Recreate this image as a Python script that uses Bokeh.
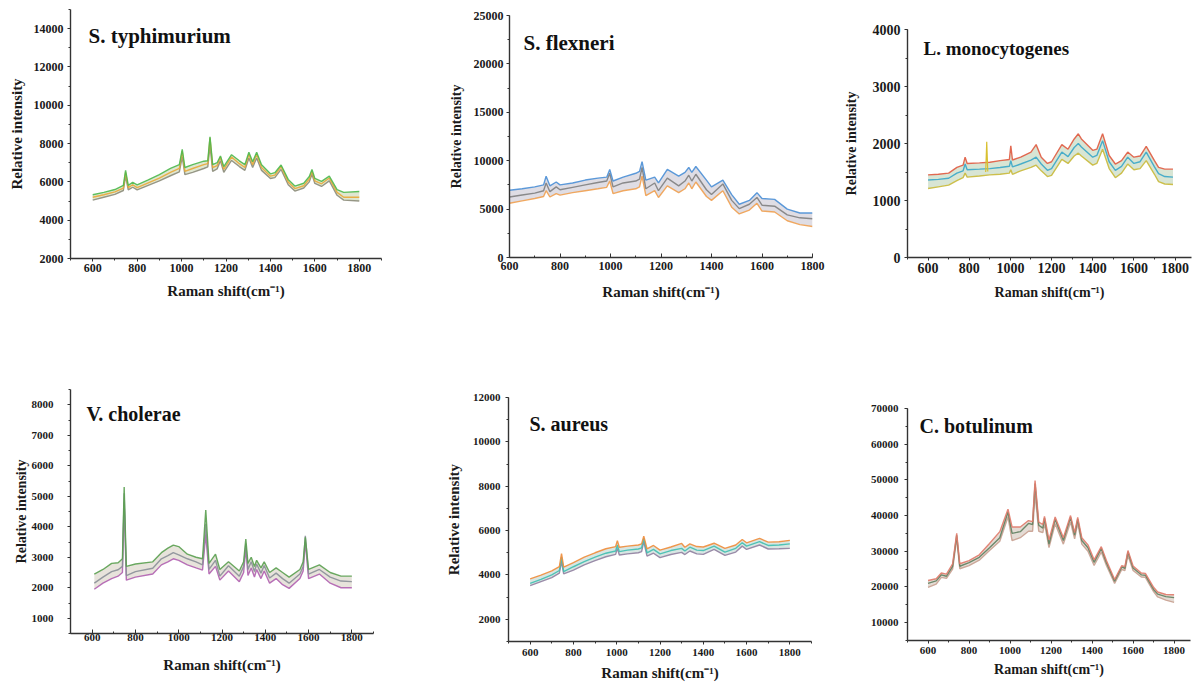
from bokeh.plotting import figure
from bokeh.layouts import row, column
from bokeh.models import Label, SingleIntervalTicker, Range1d
from bokeh.embed import file_html
from bokeh.resources import INLINE

FONT = "Liberation Serif"
XLABEL = "Raman shift(cm\u207b\u00b9)"
YLABEL = "Relative intensity"

# ---------------- data ----------------
TITLES = ["S. typhimurium", "S. flexneri", "L. monocytogenes",
          "V. cholerae", "S. aureus", "C. botulinum"]

P1_X = [600, 650, 700, 738, 748, 760, 780, 800, 850, 900, 950, 990, 1003, 1015, 1050, 1100, 1118, 1128, 1140, 1160,
        1175, 1190, 1225, 1260, 1285, 1303, 1320, 1338, 1360, 1400, 1420, 1448, 1480, 1510, 1550, 1575, 1587, 1600,
        1630, 1665, 1700, 1730, 1800]
P1_HI = [5330, 5450, 5600, 5820, 6600, 5820, 5980, 5840, 6100, 6380, 6700, 6900, 7700, 6750, 6900, 7080, 7100, 8350,
         6900, 7000, 7350, 6800, 7420, 7100, 6900, 7550, 7050, 7550, 6900, 6420, 6480, 6880, 6130, 5780, 5930, 6280,
         6650, 6180, 6030, 6300, 5600, 5450, 5500]
P1_MID = [5200, 5330, 5480, 5680, 6500, 5700, 5850, 5700, 5950, 6200, 6500, 6700, 7600, 6550, 6700, 6900, 6950, 8300,
          6750, 6850, 7300, 6650, 7300, 6950, 6750, 7450, 6900, 7450, 6750, 6300, 6350, 6800, 6000, 5650, 5800, 6150,
          6550, 6050, 5900, 6200, 5450, 5200, 5200]
P1_LO = [5050, 5200, 5350, 5550, 6300, 5580, 5720, 5580, 5820, 6050, 6320, 6520, 7300, 6380, 6500, 6700, 6780, 7900,
         6550, 6680, 7100, 6500, 7120, 6800, 6600, 7250, 6750, 7250, 6600, 6180, 6220, 6650, 5850, 5520, 5680, 6000,
         6400, 5920, 5760, 6050, 5300, 5050, 5000]

P2_X = [600, 650, 700, 735, 745, 760, 785, 800, 850, 900, 950, 985, 997, 1010, 1050, 1100, 1115, 1125, 1140, 1175,
        1190, 1225, 1270, 1295, 1310, 1322, 1338, 1380, 1400, 1445, 1480, 1510, 1550, 1580, 1600, 1650, 1700, 1750, 1800]
P2_HI = [6950, 7100, 7300, 7500, 8400, 7400, 7800, 7500, 7700, 8000, 8200, 8300, 9100, 7900, 8300, 8700, 8900, 9900,
         8000, 8300, 7700, 9100, 8400, 8800, 9300, 8800, 9400, 8000, 7300, 8000, 6500, 5500, 5900, 6700, 6100, 6000,
         5000, 4600, 4600]
P2_MID = [6250, 6450, 6650, 6900, 7700, 6800, 7300, 7000, 7250, 7500, 7750, 7900, 8700, 7300, 7700, 7900, 8100, 9300,
          7100, 7700, 6900, 8200, 7400, 7900, 8500, 7900, 8600, 7000, 6500, 7600, 5900, 5050, 5500, 6200, 5400, 5300,
          4400, 4100, 4000]
P2_LO = [5600, 5850, 6100, 6300, 6900, 6250, 6600, 6450, 6700, 6900, 7100, 7250, 7900, 6600, 6900, 7100, 7300, 8400,
         6400, 6900, 6200, 7400, 6700, 7100, 7700, 7100, 7800, 6300, 5900, 6900, 5200, 4500, 4900, 5600, 4800, 4700,
         3800, 3400, 3200]

P3_X = [600, 650, 700, 740, 770, 780, 790, 850, 900, 950, 995, 1002, 1010, 1050, 1100, 1125, 1150, 1180, 1200, 1250,
        1280, 1310, 1330, 1345, 1400, 1420, 1448, 1480, 1510, 1540, 1570, 1600, 1630, 1660, 1700, 1720, 1750, 1790]
P3_HI = [1450, 1460, 1480, 1580, 1620, 1760, 1650, 1660, 1670, 1700, 1720, 1960, 1710, 1760, 1850, 1980, 1760, 1650,
         1680, 1980, 1900, 2080, 2170, 2080, 1880, 1900, 2170, 1790, 1640, 1700, 1850, 1760, 1780, 1950, 1700, 1580,
         1550, 1550]
P3_MID = [1360, 1370, 1390, 1480, 1520, 1640, 1540, 1550, 1560, 1580, 1600, 1700, 1590, 1640, 1710, 1760, 1640, 1530,
          1560, 1850, 1770, 1930, 2000, 1940, 1760, 1790, 2050, 1680, 1530, 1600, 1760, 1650, 1680, 1850, 1590, 1470,
          1420, 1410]
P3_LO = [1210, 1240, 1270, 1350, 1400, 1480, 1410, 1430, 1450, 1460, 1480, 1540, 1460, 1520, 1580, 1620, 1520, 1420,
         1440, 1720, 1650, 1780, 1830, 1780, 1620, 1650, 1900, 1560, 1400, 1480, 1640, 1540, 1560, 1700, 1460, 1330,
         1290, 1280]
P3_SPIKE_X = [880, 885, 890]
P3_SPIKE_Y = [1500, 2030, 1510]

P4_X = [610, 650, 690, 720, 740, 748, 758, 800, 880, 920, 950, 975, 1000, 1040, 1080, 1110, 1125, 1140, 1170, 1190,
        1230, 1280, 1300, 1310, 1320, 1335, 1350, 1360, 1380, 1395, 1420, 1450, 1480, 1510, 1560, 1575, 1585, 1600,
        1650, 1700, 1750, 1800]
P4_HI = [2450, 2600, 2800, 2820, 2950, 5300, 2700, 2780, 2850, 3150, 3300, 3400, 3350, 3100, 3000, 2950, 4550, 2800,
         3100, 2600, 2850, 2550, 2850, 3600, 2800, 3000, 2700, 2900, 2650, 2850, 2500, 2650, 2500, 2350, 2600, 2850,
         3650, 2600, 2750, 2500, 2380, 2380]
P4_MID = [2150, 2350, 2530, 2590, 2700, 5100, 2400, 2530, 2640, 2950, 3050, 3150, 3080, 2950, 2850, 2750, 4100, 2600,
          2900, 2380, 2720, 2380, 2700, 3450, 2600, 2850, 2530, 2780, 2480, 2730, 2320, 2480, 2300, 2150, 2450, 2700,
          3700, 2450, 2600, 2350, 2220, 2200]
P4_LO = [1950, 2150, 2300, 2380, 2500, 4800, 2250, 2350, 2450, 2750, 2850, 2950, 2900, 2750, 2650, 2580, 3750, 2450,
         2700, 2250, 2550, 2200, 2500, 3300, 2400, 2650, 2350, 2600, 2300, 2550, 2150, 2300, 2100, 1980, 2300, 2550,
         3500, 2300, 2450, 2150, 2000, 2000]

P5_X = [600, 650, 700, 735, 745, 755, 800, 850, 900, 950, 995, 1003, 1012, 1050, 1100, 1115, 1125, 1140, 1170, 1200,
        1250, 1300, 1315, 1338, 1370, 1400, 1450, 1500, 1550, 1580, 1600, 1660, 1700, 1750, 1800]
P5_HI = [3820, 3990, 4180, 4380, 4960, 4350, 4560, 4800, 5000, 5180, 5280, 5550, 5250, 5300, 5350, 5400, 5750, 5180,
         5330, 5120, 5260, 5420, 5250, 5400, 5280, 5260, 5430, 5200, 5350, 5600, 5450, 5650, 5480, 5500, 5560]
P5_MID = [3620, 3800, 4000, 4200, 4800, 4150, 4370, 4600, 4800, 4980, 5080, 5350, 5050, 5120, 5170, 5220, 5650, 5000,
          5150, 4950, 5100, 5200, 5080, 5250, 5120, 5100, 5300, 5030, 5200, 5450, 5300, 5500, 5330, 5350, 5400]
P5_LO = [3520, 3700, 3880, 4080, 4600, 4050, 4220, 4450, 4650, 4820, 4930, 5200, 4900, 4950, 5000, 5050, 5500, 4850,
         4980, 4780, 4920, 5020, 4920, 5080, 4950, 4930, 5150, 4880, 5030, 5300, 5150, 5350, 5170, 5180, 5200]

P6_X = [600, 640, 665, 690, 720, 740, 755, 800, 850, 900, 950, 990, 1010, 1050, 1090, 1110, 1122, 1140, 1160, 1168,
        1190, 1220, 1260, 1295, 1315, 1330, 1350, 1380, 1410, 1445, 1470, 1510, 1545, 1560, 1575, 1600, 1640, 1660,
        1700, 1720, 1760, 1800]
P6_HI = [21800, 22300, 23900, 23600, 26500, 35000, 26500, 27400, 29000, 32200, 35500, 41800, 36800, 36800, 38600,
         38300, 49800, 38200, 37500, 39800, 33200, 39600, 33800, 40000, 35200, 39500, 33800, 31800, 27600, 31300,
         27400, 22100, 26000, 25700, 30200, 25900, 23900, 23800, 19900, 18600, 17900, 17800]
P6_MID = [21000, 21700, 23400, 23000, 25800, 34500, 25800, 26800, 28300, 31000, 33800, 41000, 35000, 35500, 37800,
          37500, 49000, 37300, 36500, 39300, 32000, 39000, 33000, 39500, 34500, 39000, 33000, 31000, 26900, 30800,
          26800, 21600, 25600, 25200, 29800, 25300, 23400, 23300, 19300, 18000, 17300, 17000]
P6_LO = [19900, 20800, 22700, 22400, 25000, 33500, 25100, 26000, 27500, 30200, 32800, 39600, 33000, 33800, 35600,
         35600, 46000, 35600, 35200, 37800, 31000, 37700, 32000, 38200, 33500, 37800, 32000, 30000, 26000, 29800,
         26000, 21000, 24900, 24600, 28800, 24600, 22800, 22700, 18700, 17200, 16300, 15700]

X_RANGES = [(500, 1900), (600, 1800), (500, 1880), (500, 1900), (500, 1900), (500, 1880)]
Y_RANGES = [(2000, 15000), (0, 25000), (0, 4000), (500, 8500), (1000, 12000), (5000, 70000)]
Y_STEPS = [2000, 5000, 1000, 1000, 2000, 10000]

SERIES = [
    (P1_X, [P1_LO, P1_MID, P1_HI]),
    (P2_X, [P2_LO, P2_MID, P2_HI]),
    (P3_X, [P3_LO, P3_MID, P3_HI]),
    (P4_X, [P4_LO, P4_MID, P4_HI]),
    (P5_X, [P5_LO, P5_MID, P5_HI]),
    (P6_X, [P6_LO, P6_MID, P6_HI]),
]

# ---------------- styles / layout ----------------
COLORS = [
    ["#8c8c7a", "#e8a838", "#4cb84c"],
    ["#f0a050", "#808080", "#4a8fd6"],
    ["#c9b93a", "#38a6c8", "#e05a40"],
    ["#b060b0", "#8a8f98", "#5aa050"],
    ["#9080a0", "#40bfb0", "#f08c3a"],
    ["#c8a090", "#5f7f5f", "#e07a6a"],
]
BAND = ["#b9c99a", "#b9b4c4", "#a9c6a0", "#c9c0b0", "#a8c8c0", "#c4b0a0"]

# frame_w, frame_h, border l, r, t, b
BOX = [
    (311, 249, 70, 19, 9, 82),
    (303, 242, 109, 28, 15, 83),
    (284, 228, 64, 4, 29, 83),
    (303, 244, 70, 27, 49, 51),
    (303, 244, 108, 29, 57, 43),
    (283, 232, 67, 2, 68, 44),
]
# title: x offset, y from frame bottom, size
TITLE_POS = [(18, 223, "21px"), (14, 215, "21px"), (16, 209, "19px"),
             (16, 220, "20px"), (21, 218, "20px"), (12, 215, "20px")]
# tick font, ytick standoff, xtick out, xtick in, xtick standoff
TICKS = [("12px", 4, 3, 0, 2), ("12px", 3, 0, 4, 4), ("14px", 4, 3, 0, 2),
         ("11px", 14, 0, 4, 0), ("11px", 5, 3, 0, 4), ("11px", 6, 3, 0, 3)]
# xlabel size, xlabel standoff, ylabel size, ylabel standoff
LABS = [("15px", 8, "15px", 6), ("15px", 11, "14px", 7), ("14px", 9, "14px", 11),
        ("15px", 13, "14px", 0), ("15px", 6, "15px", 8), ("14px", 5, None, 0)]

INK = "#1a1a1a"


def make_panel(i):
    fw, fh, bl, br, bt, bb = BOX[i]
    p = figure(frame_width=fw, frame_height=fh, min_border=0,
               min_border_left=bl, min_border_right=br, min_border_top=bt, min_border_bottom=bb,
               x_range=Range1d(*X_RANGES[i]), y_range=Range1d(*Y_RANGES[i]),
               output_backend="svg", toolbar_location=None, tools="")
    if "frame_align" in p.properties():
        p.frame_align = False
    p.grid.visible = False
    p.outline_line_color = None
    p.background_fill_color = "white"
    p.border_fill_color = "white"

    x, ys = SERIES[i]
    # spread of the bundle of spectra (between the lowest and highest traces)
    p.varea(x=x, y1=ys[0], y2=ys[2], fill_color=BAND[i], fill_alpha=0.45)
    for y, c in zip(ys, COLORS[i]):
        p.line(x, y, line_color=c, line_width=1.4, line_alpha=0.9)
    if i == 2:
        p.line(P3_SPIKE_X, P3_SPIKE_Y, line_color="#d8c030", line_width=1.2)

    tfont, ystand, xout, xin, xstand = TICKS[i]
    xls, xlst, yls, ylst = LABS[i]

    p.xaxis.ticker = SingleIntervalTicker(interval=200, num_minor_ticks=2)
    p.yaxis.ticker = SingleIntervalTicker(interval=Y_STEPS[i], num_minor_ticks=2)
    for ax in (p.xaxis[0], p.yaxis[0]):
        ax.axis_line_color = "#333333"
        ax.axis_line_width = 1.4
        ax.major_tick_line_color = "#333333"
        ax.minor_tick_line_color = "#333333"
        ax.major_label_text_font = FONT
        ax.major_label_text_font_style = "bold"
        ax.major_label_text_font_size = tfont
        ax.major_label_text_color = INK
        ax.axis_label_text_font = FONT
        ax.axis_label_text_font_style = "bold"
        ax.axis_label_text_color = INK

    xa = p.xaxis[0]
    xa.major_tick_out = xout
    xa.major_tick_in = xin
    xa.minor_tick_out = 2 if xout else 0
    xa.minor_tick_in = 0 if xout else 2
    xa.major_label_standoff = xstand
    xa.axis_label = XLABEL
    xa.axis_label_text_font_size = xls
    xa.axis_label_standoff = xlst

    ya = p.yaxis[0]
    ya.major_tick_out = 3
    ya.major_tick_in = 0
    ya.minor_tick_out = 2
    ya.minor_tick_in = 0
    ya.major_label_standoff = ystand
    if yls:
        ya.axis_label = YLABEL
        ya.axis_label_text_font_size = yls
        ya.axis_label_standoff = ylst

    tx, ty, tsize = TITLE_POS[i]
    p.add_layout(Label(x=tx, y=ty, x_units="screen", y_units="screen", text=TITLES[i],
                       text_font=FONT, text_font_style="bold", text_font_size=tsize,
                       text_color="#111111", text_baseline="middle", text_align="left"))
    return p


panels = [make_panel(i) for i in range(6)]
layout = column(row(panels[0], panels[1], panels[2], spacing=0),
                row(panels[3], panels[4], panels[5], spacing=0), spacing=0)

open("out.html", "w").write(file_html(layout, INLINE))
